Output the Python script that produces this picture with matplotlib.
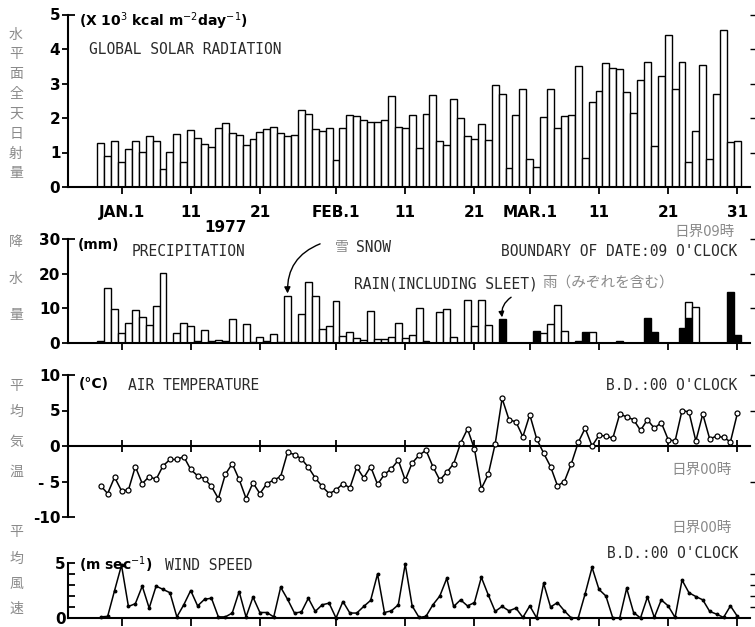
import numpy as np
import matplotlib
matplotlib.use('Agg')
import matplotlib.pyplot as plt

W, H = 755, 627

# day index: 0 = Jan 1 1977; data run from Dec 29 (-3) to Mar 31 (89)
days = np.arange(-3, 90)

tick_days = [0, 10, 20, 31, 41, 51, 59, 69, 79, 89]
tick_labels = ['JAN.1', '11', '21', 'FEB.1', '11', '21', 'MAR.1', '11', '21', '31']

solar = [1.28, 0.89, 1.33, 0.73, 1.11, 1.34, 1.02, 1.49, 1.32, 0.51,
         1.01, 1.53, 0.73, 1.66, 1.41, 1.26, 1.16, 1.72, 1.86, 1.57,
         1.51, 1.23, 1.40, 1.58, 1.68, 1.73, 1.57, 1.49, 1.51, 2.22,
         2.11, 1.69, 1.61, 1.70, 0.77, 1.71, 2.08, 2.06, 1.93, 1.88,
         1.89, 1.93, 2.64, 1.75, 1.70, 2.09, 1.13, 2.13, 2.67, 1.32,
         1.23, 2.55, 1.99, 1.47, 1.39, 1.83, 1.37, 2.95, 2.71, 0.55,
         2.08, 2.83, 0.80, 0.58, 2.03, 2.85, 1.70, 2.06, 2.10, 3.52,
         0.85, 2.46, 2.78, 3.60, 3.46, 3.42, 2.74, 2.14, 3.11, 3.61,
         1.20, 3.21, 4.41, 2.83, 3.62, 0.72, 1.61, 3.53, 0.82, 2.70,
         4.55, 1.30, 1.32]

snow = [0.5, 15.9, 9.8, 2.9, 5.8, 9.5, 7.5, 5.1, 10.8, 20.3,
        0.0, 2.9, 5.7, 4.8, 0.6, 3.7, 0.5, 0.8, 0.6, 6.8,
        0.0, 5.4, 0.4, 1.8, 0.6, 2.7, 0.4, 13.5, 0.4, 8.4,
        17.6, 13.6, 4.1, 4.8, 12.2, 2.1, 3.1, 1.5, 1.0, 9.2,
        1.1, 1.1, 1.6, 5.8, 1.5, 2.3, 10.2, 0.6, 0.0, 8.8,
        9.8, 1.6, 0.0, 12.3, 4.8, 12.3, 5.3, 0.0, 0.0, 0.0,
        0.0, 0.0, 0.0, 0.0, 2.9, 5.4, 11.1, 3.6, 0.0, 0.0,
        0.0, 3.1, 0.0, 0.0, 0.0, 0.0, 0.0, 0.0, 0.0, 0.0,
        0.0, 0.0, 0.0, 0.0, 0.0, 4.7, 10.4, 0.0, 0.0, 0.0,
        0.0, 0.0, 0.0]

rain = [0.0, 0.0, 0.0, 0.0, 0.0, 0.0, 0.0, 0.0, 0.0, 0.0,
        0.0, 0.0, 0.0, 0.0, 0.0, 0.0, 0.0, 0.0, 0.0, 0.0,
        0.0, 0.0, 0.0, 0.0, 0.0, 0.0, 0.0, 0.0, 0.0, 0.0,
        0.0, 0.0, 0.0, 0.0, 0.0, 0.0, 0.0, 0.0, 0.0, 0.0,
        0.0, 0.0, 0.0, 0.0, 0.0, 0.0, 0.0, 0.0, 0.0, 0.0,
        0.0, 0.0, 0.0, 0.0, 0.0, 0.0, 0.0, 0.0, 6.9, 0.0,
        0.0, 0.0, 0.0, 3.6, 0.0, 0.0, 0.0, 0.0, 0.0, 0.7,
        3.1, 0.0, 0.0, 0.0, 0.0, 0.7, 0.0, 0.0, 0.0, 7.3,
        3.3, 0.0, 0.0, 0.0, 4.4, 7.1, 0.0, 0.0, 0.0, 0.0,
        0.0, 14.8, 2.4]

temp = [-5.6, -6.7, -4.4, -6.3, -6.2, -2.9, -5.3, -4.3, -4.7, -2.8,
        -1.9, -1.9, -1.5, -3.3, -4.2, -4.6, -5.7, -7.4, -4.0, -2.5,
        -4.7, -7.4, -5.2, -6.7, -5.3, -4.8, -4.3, -0.9, -1.2, -1.8,
        -3.0, -4.5, -5.7, -6.7, -6.2, -5.3, -5.9, -3.0, -4.5, -2.9,
        -5.4, -4.0, -3.2, -2.0, -4.8, -2.4, -1.3, -0.6, -2.9, -4.8,
        -3.7, -2.5, 0.4, 2.4, -0.4, -6.0, -4.0, 0.3, 6.7, 3.7,
        3.4, 1.3, 4.4, 1.0, -1.0, -2.9, -5.6, -5.0, -2.5, 0.5,
        2.5, 0.0, 1.5, 1.4, 1.1, 4.5, 4.1, 3.7, 2.2, 3.7,
        2.5, 3.3, 0.9, 0.7, 5.0, 4.8, 0.7, 4.5, 1.0, 1.4,
        1.2, 0.6, 4.6]

wind = [0.1, 0.15, 2.5, 4.8, 1.05, 1.3, 2.9, 0.9, 2.9, 2.6,
        2.3, 0.1, 1.2, 2.5, 1.1, 1.7, 1.8, 0.1, 0.1, 0.45,
        2.4, 0.1, 1.9, 0.5, 0.5, 0.1, 2.8, 1.7, 0.45, 0.55,
        1.8, 0.6, 1.2, 1.35, 0.0, 1.5, 0.45, 0.45, 1.05, 1.6,
        4.0, 0.5, 0.65, 1.2, 4.9, 1.1, 0.05, 0.15, 1.2, 2.0,
        3.6, 1.05, 1.65, 1.1, 1.4, 3.7, 2.1, 0.6, 1.05, 0.65,
        0.9, 0.05, 1.1, 0.0, 3.15, 1.0, 1.4, 0.65, 0.0, 0.0,
        2.2, 4.6, 2.6, 2.0, 0.0, 0.0, 2.7, 0.5, 0.0, 1.9,
        0.05, 1.65, 1.1, 0.05, 3.45, 2.3, 1.95, 1.65, 0.6, 0.35,
        0.05, 1.1, 0.15]

solar = np.array(solar); snow = np.array(snow); rain = np.array(rain)
temp = np.array(temp); wind = np.array(wind)

MONO = 'DejaVu Sans Mono'
JP = ['Noto Sans CJK JP', 'DejaVu Sans']
GRAY = '#8a8a8a'
TXT = '#2a2a2a'

fig = plt.figure(figsize=(W / 100, H / 100), dpi=100)

# pixel geometry
X0_PX, X1_PX = 68, 750
JAN1_PX, DAY_PX = 121.5, 6.92
XL = (X0_PX - JAN1_PX) / DAY_PX
XR = (X1_PX - JAN1_PX) / DAY_PX


def rect(top, bottom):
    return [X0_PX / W, 1 - bottom / H, (X1_PX - X0_PX) / W, (bottom - top) / H]


def style(ax, ylim, yticks, ylabels, inward, right_ticks, out_len=4):
    ax.set_xlim(XL, XR)
    ax.set_ylim(*ylim)
    for s in ['top', 'right']:
        ax.spines[s].set_visible(False)
    for s in ['left', 'bottom']:
        ax.spines[s].set_linewidth(1.5)
    ax.set_xticks(tick_days)
    ax.set_xticklabels([])
    ax.tick_params(axis='x', direction='out', length=5, width=1.3)
    ax.set_yticks(yticks)
    ax.set_yticklabels(ylabels, fontweight='bold', fontsize=11)
    ax.tick_params(axis='y', which='major', direction='out', length=out_len, width=1.3, pad=1.5)
    ax.yaxis.remove_overlapping_locs = False
    ax.set_yticks(inward, minor=True)
    ax.tick_params(axis='y', which='minor', direction='in', length=5, width=1.3)
    axr = ax.twinx()
    axr.set_ylim(*ylim)
    for s in axr.spines.values():
        s.set_visible(False)
    axr.set_yticks(right_ticks)
    axr.set_yticklabels([])
    axr.tick_params(axis='y', direction='out', length=5, width=1.0)
    return axr


# ---- Panel 1: global solar radiation
ax1 = fig.add_axes(rect(14.5, 187))
style(ax1, (0, 5), [0, 1, 2, 3, 4, 5], ['0', '1', '2', '3', '4', '5'], [5], [1, 2, 3, 4, 5])
ax1.bar(days, solar, width=1.0, color='white', edgecolor='black', linewidth=1.0, zorder=2)
ax1.set_xticklabels(tick_labels, fontweight='bold', fontsize=11)
ax1.tick_params(axis='x', pad=8)

# ---- Panel 2: precipitation
ax2 = fig.add_axes(rect(239, 343))
style(ax2, (0, 30), [0, 10, 20, 30], ['0', '10', '20', '30'], [30], [10, 20, 30])
mr = rain > 0
ax2.bar(days[mr], rain[mr], width=1.0, color='black', edgecolor='black', linewidth=1.0, zorder=2)
ms = snow > 0
ax2.bar(days[ms], snow[ms], bottom=rain[ms], width=1.0, color='white', edgecolor='black',
        linewidth=1.0, zorder=2)
ax2.annotate('', xy=(24, 14.3), xytext=(28.7, 28.6),
             arrowprops=dict(arrowstyle='-|>', color='black', lw=1.0, mutation_scale=9,
                             connectionstyle='arc3,rad=0.35', shrinkA=0, shrinkB=0))
ax2.annotate('', xy=(55, 7.4), xytext=(56.3, 13.2),
             arrowprops=dict(arrowstyle='-|>', color='black', lw=1.0, mutation_scale=8,
                             connectionstyle='arc3,rad=0.3', shrinkA=0, shrinkB=0))

# ---- Panel 3: air temperature
ax3 = fig.add_axes(rect(375, 517))
style(ax3, (-10, 10), [-10, -5, 0, 5, 10], ['-10', '- 5', '0', '5', '10'], [-10, 10], [-5, 5, 10])
ax3.spines['bottom'].set_position(('data', 0))
ax3.tick_params(axis='x', direction='inout', length=8)
ax3.plot(days, temp, color='black', lw=1.1, marker='o', ms=3.6, mfc='white', mec='black',
         mew=0.9, zorder=3, clip_on=False)

# ---- Panel 4: wind speed
ax4 = fig.add_axes(rect(563, 618))
style(ax4, (0, 5), [0, 5], ['0', '5'], [1, 2, 3, 4, 5], [1, 2, 3, 4], out_len=0)
ax4.tick_params(axis='x', length=6)
ax4.plot(days, wind, color='black', lw=1.1, marker='o', ms=1.8, zorder=3, clip_on=False)


def t(x, y, s, **kw):
    kw.setdefault('va', 'center')
    fig.text(x / W, 1 - y / H, s, **kw)


# unit / title texts
t(79, 21, r'(X 10$^{3}$ kcal m$^{-2}$day$^{-1}$)', fontsize=10, fontweight='bold')
t(89, 50, 'GLOBAL SOLAR RADIATION', fontsize=10.5, family=MONO, color=TXT)
t(226, 228, '1977', fontsize=11, fontweight='bold', ha='center')

t(78, 245, '(mm)', fontsize=10, fontweight='bold')
t(132, 252, 'PRECIPITATION', fontsize=10.5, family=MONO, color=TXT)
t(342, 247, '雪', fontsize=10, family=JP, color=GRAY, ha='center')
t(356, 247, 'SNOW', fontsize=10.5, family=MONO, color=TXT)
t(735, 232, '日界09時', fontsize=10.5, family=JP, color=GRAY, ha='right')
t(737, 251, "BOUNDARY OF DATE:09 O'CLOCK", fontsize=10.5, family=MONO, color=TXT, ha='right')
t(354, 284, 'RAIN(INCLUDING SLEET)', fontsize=10.5, family=MONO, color=TXT)
t(542, 283, '雨（みぞれを含む）', fontsize=10.5, family=JP, color=GRAY)

t(79, 384, '(°C)', fontsize=10, fontweight='bold')
t(128, 385, 'AIR TEMPERATURE', fontsize=10.5, family=MONO, color=TXT)
t(737, 385, "B.D.:00 O'CLOCK", fontsize=10.5, family=MONO, color=TXT, ha='right')
t(732, 470, '日界00時', fontsize=10.5, family=JP, color=GRAY, ha='right')

t(79, 565, r'(m sec$^{-1}$)', fontsize=10, fontweight='bold')
t(165, 565, 'WIND SPEED', fontsize=10.5, family=MONO, color=TXT)
t(732, 528, '日界00時', fontsize=10.5, family=JP, color=GRAY, ha='right')
t(738, 553, "B.D.:00 O'CLOCK", fontsize=10.5, family=MONO, color=TXT, ha='right')

# vertical Japanese axis titles
for chars, ys in [('水平面全天日射量', [35, 54, 74, 94, 114, 134, 154, 173]),
                  ('降水量', [242, 279, 315]),
                  ('平均気温', [386, 412, 442, 472]),
                  ('平均風速', [532, 559, 584, 609])]:
    for ch, y in zip(chars, ys):
        t(16, y, ch, fontsize=10, family=JP, color=GRAY, ha='center')

fig.savefig('out.png', dpi=100)
